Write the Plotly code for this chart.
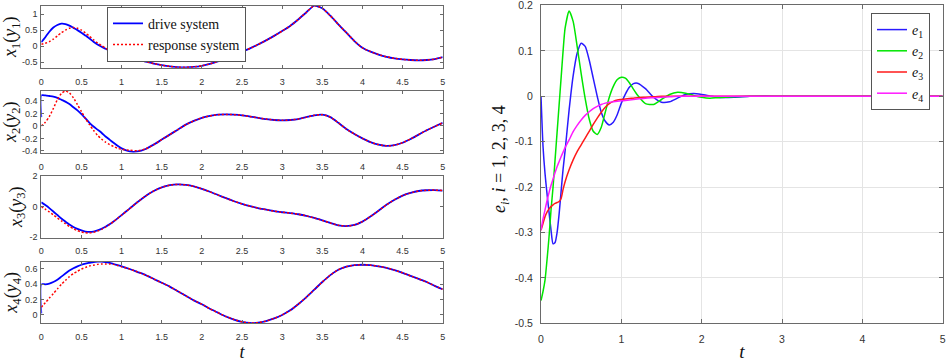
import plotly.graph_objects as go

# ---------------- data ----------------
T = [0, 0.05, 0.1, 0.15, 0.2, 0.25, 0.3, 0.35, 0.4, 0.45, 0.5, 0.55, 0.6, 0.65, 0.7,
     0.75, 0.8, 0.85, 0.9, 0.95, 1.0, 1.1, 1.2, 1.3, 1.4, 1.5, 1.6, 1.7, 1.8, 1.9, 2.0,
     2.1, 2.2, 2.3, 2.4, 2.5, 2.6, 2.7, 2.8, 2.9, 3.0, 3.1, 3.2, 3.3, 3.4, 3.5, 3.6,
     3.7, 3.8, 3.9, 4.0, 4.1, 4.2, 4.3, 4.4, 4.5, 4.6, 4.7, 4.8, 4.9, 5.0]

# drive system x1..x4 (blue)
X1_DRIVE = [0.12, 0.28, 0.45, 0.58, 0.66, 0.70, 0.69, 0.64, 0.57, 0.50, 0.42, 0.33, 0.24, 0.14,
            0.05, -0.02, -0.08, -0.14, -0.19, -0.24, -0.29, -0.36, -0.42, -0.48, -0.54, -0.59,
            -0.63, -0.655, -0.66, -0.645, -0.61, -0.55, -0.47, -0.38, -0.28, -0.17, -0.07,
            0.05, 0.18, 0.32, 0.47, 0.63, 0.83, 1.05, 1.26, 1.18, 0.95, 0.68, 0.42, 0.16,
            -0.05, -0.17, -0.26, -0.33, -0.38, -0.41, -0.43, -0.44, -0.43, -0.40, -0.34]
X2_DRIVE_T0 = 0.14
X2_DRIVE = [0.49, 0.49, 0.48, 0.47, 0.45, 0.42, 0.39, 0.35, 0.30, 0.25, 0.19, 0.12, 0.05, -0.01,
            -0.06, -0.11, -0.17, -0.22, -0.27, -0.32, -0.36, -0.41, -0.41, -0.37, -0.30, -0.22,
            -0.14, -0.06, 0.02, 0.08, 0.13, 0.16, 0.18, 0.185, 0.18, 0.17, 0.15, 0.13, 0.11,
            0.095, 0.09, 0.095, 0.11, 0.14, 0.17, 0.18, 0.14, 0.05, -0.05, -0.13, -0.20, -0.26,
            -0.30, -0.32, -0.31, -0.27, -0.21, -0.14, -0.07, -0.01, 0.05]
X3_DRIVE = [0.28, 0.10, -0.10, -0.32, -0.55, -0.78, -0.98, -1.17, -1.33, -1.46, -1.56, -1.63,
            -1.65, -1.63, -1.56, -1.46, -1.32, -1.16, -0.97, -0.77, -0.56, -0.13, 0.30, 0.70,
            1.02, 1.26, 1.40, 1.45, 1.42, 1.32, 1.16, 0.97, 0.76, 0.55, 0.35, 0.18, 0.03,
            -0.10, -0.20, -0.30, -0.37, -0.43, -0.50, -0.60, -0.74, -0.90, -1.07, -1.22,
            -1.27, -1.20, -0.98, -0.65, -0.27, 0.12, 0.45, 0.72, 0.90, 1.02, 1.07, 1.08, 1.05]
X4_DRIVE_T0 = 0.02
X4_DRIVE = [0.40, 0.40, 0.41, 0.43, 0.46, 0.50, 0.54, 0.58, 0.61, 0.635, 0.655, 0.67, 0.68,
            0.69, 0.695, 0.695, 0.69, 0.68, 0.665, 0.65, 0.635, 0.60, 0.56, 0.52, 0.47, 0.42,
            0.37, 0.31, 0.25, 0.19, 0.14, 0.08, 0.03, -0.02, -0.06, -0.09, -0.105, -0.10,
            -0.08, -0.045, 0.0, 0.06, 0.14, 0.23, 0.33, 0.43, 0.52, 0.59, 0.63, 0.65, 0.655,
            0.65, 0.635, 0.615, 0.585, 0.55, 0.51, 0.47, 0.43, 0.38, 0.335]

# response system y1..y4 (red dotted): early transient, then identical to drive
Y1_RESP_EARLY = [0.06, 0.09, 0.14, 0.22, 0.32, 0.42, 0.50, 0.56, 0.58, 0.56, 0.50, 0.41, 0.31,
                 0.20, 0.10, 0.02, -0.06, -0.13, -0.20, -0.26, -0.31, -0.38, -0.43]
Y2_RESP_EARLY = [0.0, 0.06, 0.15, 0.28, 0.42, 0.52, 0.56, 0.53, 0.45, 0.34, 0.23, 0.12, 0.02,
                 -0.07, -0.15, -0.21, -0.26, -0.30, -0.33, -0.36, -0.375, -0.39, -0.40]
Y3_RESP_EARLY = [0.0, -0.17, -0.35, -0.54, -0.74, -0.93, -1.12, -1.30, -1.45, -1.57, -1.66,
                 -1.71, -1.72, -1.68, -1.60, -1.49, -1.34, -1.17, -0.98, -0.77, -0.56]
Y4_RESP_EARLY = [0.10, 0.16, 0.22, 0.28, 0.34, 0.40, 0.45, 0.50, 0.54, 0.57, 0.60, 0.62, 0.64,
                 0.65, 0.66, 0.665, 0.665, 0.665, 0.66, 0.645, 0.63]

LEFT_XTICKS = [0, 0.5, 1, 1.5, 2, 2.5, 3, 3.5, 4, 4.5, 5]
LEFT_XTEXT = ["0", "0.5", "1", "1.5", "2", "2.5", "3", "3.5", "4", "4.5", "5"]
P1_YTICKS, P1_YTEXT = [-0.5, 0, 0.5, 1], ["-0.5", "0", "0.5", "1"]
P2_YTICKS, P2_YTEXT = [-0.4, -0.2, 0, 0.2, 0.4], ["-0.4", "-0.2", "0", "0.2", "0.4"]
P3_YTICKS, P3_YTEXT = [-2, 0, 2], ["-2", "0", "2"]
P4_YTICKS, P4_YTEXT = [0, 0.2, 0.4, 0.6], ["0", "0.2", "0.4", "0.6"]

# synchronization errors e1..e4
TE = [0, 0.025, 0.05, 0.075, 0.1, 0.125, 0.15, 0.175, 0.2, 0.225, 0.25, 0.275, 0.3, 0.35, 0.4,
      0.45, 0.5, 0.55, 0.6, 0.65, 0.7, 0.75, 0.8, 0.85, 0.9, 0.95, 1.0, 1.05, 1.1, 1.15, 1.2,
      1.3, 1.4, 1.5, 1.6, 1.7, 1.8, 1.9, 2.0, 2.1, 2.2, 2.4, 2.6, 2.8, 3.0, 3.5, 4.0, 4.5, 5.0]
E1 = [0.0, -0.11, -0.17, -0.215, -0.255, -0.295, -0.325, -0.322, -0.30, -0.26, -0.21, -0.16,
      -0.12, -0.03, 0.045, 0.095, 0.117, 0.11, 0.08, 0.04, 0.0, -0.035, -0.055, -0.063, -0.057,
      -0.04, -0.015, 0.005, 0.02, 0.028, 0.029, 0.017, -0.002, -0.013, -0.012, -0.004, 0.004,
      0.006, 0.004, 0.001, -0.002, -0.002, 0.0, 0.0005, 0.0, 0.0, 0.0, 0.0, 0.0]
E2 = [-0.45, -0.43, -0.405, -0.36, -0.31, -0.25, -0.20, -0.14, -0.08, -0.02, 0.04, 0.10, 0.15,
      0.188, 0.165, 0.11, 0.05, -0.005, -0.05, -0.077, -0.084, -0.068, -0.035, -0.002, 0.022,
      0.037, 0.042, 0.04, 0.03, 0.016, 0.003, -0.016, -0.018, -0.007, 0.004, 0.009, 0.007,
      0.002, -0.002, -0.004, -0.003, -0.001, 0.0, 0.0, 0.0, 0.0, 0.0, 0.0, 0.0]
E3 = [-0.295, -0.28, -0.265, -0.255, -0.248, -0.243, -0.239, -0.236, -0.234, -0.232, -0.225,
      -0.205, -0.188, -0.162, -0.14, -0.122, -0.107, -0.092, -0.077, -0.062, -0.048, -0.035,
      -0.024, -0.016, -0.011, -0.008, -0.007, -0.006, -0.005, -0.004, -0.003, -0.002, -0.001,
      0.0, 0.0, 0.0, 0.0, 0.0, 0.0, 0.0, 0.0, 0.0, 0.0, 0.0, 0.0, 0.0, 0.0, 0.0, 0.0]
E4 = [-0.295, -0.27, -0.25, -0.23, -0.212, -0.196, -0.182, -0.168, -0.155, -0.144, -0.133,
      -0.123, -0.113, -0.096, -0.078, -0.064, -0.052, -0.042, -0.034, -0.027, -0.022, -0.018,
      -0.015, -0.013, -0.012, -0.011, -0.010, -0.009, -0.008, -0.007, -0.006, -0.004, -0.003,
      -0.002, -0.001, 0.0, 0.0, 0.0, 0.0, 0.0, 0.0, 0.0, 0.0, 0.0, 0.0, 0.0, 0.0, 0.0, 0.0]
E_NAMES = ["<i>e</i><sub>1</sub>", "<i>e</i><sub>2</sub>", "<i>e</i><sub>3</sub>", "<i>e</i><sub>4</sub>"]
E_COLORS = ["#2a1aff", "#00e600", "#ff1a1a", "#ff1aff"]
E_XTICKS = [0, 1, 2, 3, 4, 5]
E_YTICKS = [-0.5, -0.4, -0.3, -0.2, -0.1, 0, 0.1, 0.2]
E_YTEXT = ["-0.5", "-0.4", "-0.3", "-0.2", "-0.1", "0", "0.1", "0.2"]

# ---------------- figure ----------------
W, H = 948, 362
AX = "#6a6a6a"
SANS = "Liberation Sans, Arial, Helvetica, sans-serif"
SERIF = "Liberation Serif, Times New Roman, serif"


def px_x(a, b):
    return [a / W, b / W]


def px_y(top, bottom):
    return [1 - bottom / H, 1 - top / H]


fig = go.Figure()

panels = [
    ([0.0] + T, [X1_DRIVE[0]] + X1_DRIVE, Y1_RESP_EARLY + X1_DRIVE[len(Y1_RESP_EARLY):]),
    ([0.0] + T, [X2_DRIVE_T0] + X2_DRIVE, Y2_RESP_EARLY + X2_DRIVE[len(Y2_RESP_EARLY):]),
    ([0.0] + T, [X3_DRIVE[0]] + X3_DRIVE, Y3_RESP_EARLY + X3_DRIVE[len(Y3_RESP_EARLY):]),
    ([0.0] + T, [X4_DRIVE_T0] + X4_DRIVE, Y4_RESP_EARLY + X4_DRIVE[len(Y4_RESP_EARLY):]),
]
for i, (td, drive, resp) in enumerate(panels):
    sfx = "" if i == 0 else str(i + 1)
    fig.add_trace(go.Scatter(x=td, y=drive, mode="lines", name="drive system",
                             line=dict(color="#0000ff", width=1.8, shape="spline", smoothing=0.6),
                             xaxis="x" + sfx, yaxis="y" + sfx, showlegend=(i == 0), legend="legend"))
    fig.add_trace(go.Scatter(x=T, y=resp, mode="lines", name="response system",
                             line=dict(color="#ff0000", width=1.5, dash="2px,2px",
                                       shape="spline", smoothing=0.6),
                             xaxis="x" + sfx, yaxis="y" + sfx, showlegend=(i == 0), legend="legend"))

for name, vals, col in zip(E_NAMES, [E1, E2, E3, E4], E_COLORS):
    fig.add_trace(go.Scatter(x=TE, y=vals, mode="lines", name=name,
                             line=dict(color=col, width=1.5, shape="spline", smoothing=0.6),
                             xaxis="x5", yaxis="y5", legend="legend2"))

tickfont_l = dict(family=SANS, size=9, color="#333")
tickfont_r = dict(family=SANS, size=10.5, color="#333")
titlefont = dict(family=SERIF, size=18, color="#111")

left_x = px_x(41.3, 442.7)
left_y = [px_y(5.7, 67.7), px_y(90.7, 152.7), px_y(176.0, 237.5), px_y(261.7, 323.0)]
left_ranges = [[-0.67, 1.26], [-0.43, 0.565], [-2.02, 2.001], [-0.105, 0.695]]
left_yt = [(P1_YTICKS, P1_YTEXT), (P2_YTICKS, P2_YTEXT), (P3_YTICKS, P3_YTEXT), (P4_YTICKS, P4_YTEXT)]
left_titles = ["<i>x</i><sub>1</sub>(<i>y</i><sub>1</sub>)", "<i>x</i><sub>2</sub>(<i>y</i><sub>2</sub>)",
               "<i>x</i><sub>3</sub>(<i>y</i><sub>3</sub>)", "<i>x</i><sub>4</sub>(<i>y</i><sub>4</sub>)"]

common = dict(showline=True, linecolor=AX, linewidth=1, mirror="ticks", ticks="inside",
              tickcolor=AX, ticklen=3, zeroline=False, showgrid=False, ticklabeloverflow="allow")

layout = dict(width=W, height=H, margin=dict(l=0, r=0, t=0, b=0), template="none",
              paper_bgcolor="white", plot_bgcolor="white", showlegend=True)
for i in range(4):
    sfx = "" if i == 0 else str(i + 1)
    xa = dict(common, domain=left_x, range=[0, 5], anchor="y" + sfx, tickvals=LEFT_XTICKS,
              ticktext=LEFT_XTEXT, tickfont=tickfont_l, ticklabelstandoff=5)
    if i == 3:
        xa["title"] = dict(text="<i>t</i>", font=dict(family=SERIF, size=18, color="#111"), standoff=1)
    ya = dict(common, domain=left_y[i], range=left_ranges[i], anchor="x" + sfx,
              tickvals=left_yt[i][0], ticktext=left_yt[i][1], tickfont=tickfont_l,
              ticklabelstandoff=1, title=dict(text=left_titles[i], font=titlefont, standoff=2))
    layout["xaxis" + sfx] = xa
    layout["yaxis" + sfx] = ya

layout["xaxis5"] = dict(common, domain=px_x(541, 942.7), range=[0, 5], anchor="y5",
                        tickvals=E_XTICKS, tickfont=tickfont_r, ticklen=4, showgrid=True,
                        gridcolor="#e4e4e4", gridwidth=1, ticklabelstandoff=6,
                        title=dict(text="<i>t</i>", font=dict(family=SERIF, size=19, color="#111"),
                                   standoff=0))
layout["yaxis5"] = dict(common, domain=px_y(5.3, 323.3), range=[-0.5, 0.2005], anchor="x5",
                        tickvals=E_YTICKS, ticktext=E_YTEXT, tickfont=tickfont_r, ticklen=4,
                        showgrid=True, gridcolor="#e4e4e4", gridwidth=1, ticklabelstandoff=5)
layout["annotations"] = [dict(text="<i>e</i><sub><i>i</i></sub>, <i>i</i> = 1, 2, 3, 4",
                              xref="paper", yref="paper", x=500 / W, y=1 - 159 / H,
                              xanchor="center", yanchor="middle", textangle=-90, showarrow=False,
                              font=dict(family=SERIF, size=18, color="#111"))]
layout["legend"] = dict(x=107 / W, y=1 - 6.7 / H, xanchor="left", yanchor="top",
                        bgcolor="white", bordercolor="#555", borderwidth=1,
                        font=dict(family=SERIF, size=14, color="#111"), tracegroupgap=0)
layout["legend2"] = dict(x=871 / W, y=1 - 13 / H, xanchor="left", yanchor="top",
                         bgcolor="white", bordercolor="#555", borderwidth=1,
                         font=dict(family=SERIF, size=14, color="#111"), tracegroupgap=0)
fig.update_layout(**layout)

fig.write_html("out.html", config={"displayModeBar": False},
               post_script="document.body.style.margin='0';")
